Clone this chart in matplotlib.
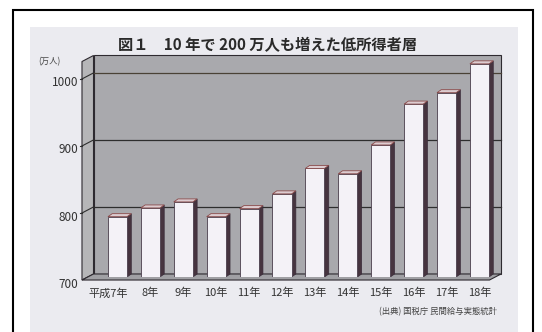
import numpy as np
import matplotlib.pyplot as plt
from matplotlib.patches import Polygon, Rectangle

plt.rcParams['font.family'] = ['Noto Sans CJK JP', 'DejaVu Sans']

# datos (万人)
anios = ['平成7年', '8年', '9年', '10年', '11年', '12年',
         '13年', '14年', '15年', '16年', '17年', '18年']
valores = [790, 803, 812, 790, 802, 824, 862, 854, 897, 958, 975, 1018]
yticks = [700, 800, 900, 1000]
titulo = '図１　10 年で 200 万人も増えた低所得者層'
unidad = '(万人)'
fuente = '(出典) 国税庁 民間給与実態統計'

W, H = 542, 332
fig = plt.figure(figsize=(W / 100, H / 100), dpi=100)

# marco y panel de fondo
bg = fig.add_axes([0, 0, 1, 1])
bg.set_xlim(0, W)
bg.set_ylim(H, 0)
bg.axis('off')
bg.add_patch(Rectangle((13, 10), 520, 340, fc='white', ec='black', lw=1.5))
bg.add_patch(Rectangle((30, 27), 488, 320, fc='#ebebf0', ec='none'))

# ejes en el plano medio de las barras
ax = fig.add_axes([87.75 / W, 55 / H, (495.25 - 87.75) / W, 218.5 / H])
x0, x1 = -0.904, 11.48
y0, y1 = 700, 1026
ax.set_xlim(x0, x1)
ax.set_ylim(y0, y1)
ax.axis('off')

hx, hy = 0.175, 4.5   # media profundidad de las paredes
bw = 0.58             # ancho de barra
bdx, bdy = 0.13, 4.5  # profundidad de barra
borde = '#2e2a30'

# pared trasera
ax.add_patch(Polygon([(x0 + hx, y0 + hy), (x1 + hx, y0 + hy), (x1 + hx, y1 + hy), (x0 + hx, y1 + hy)],
                     closed=True, fc='#a9a9ad', ec=borde, lw=0.8, clip_on=False, zorder=1))
# pared izquierda
ax.add_patch(Polygon([(x0 - hx, y0 - hy), (x0 + hx, y0 + hy), (x0 + hx, y1 + hy), (x0 - hx, y1 - hy)],
                     closed=True, fc='#b6b6b8', ec=borde, lw=0.8, clip_on=False, zorder=1))
# piso
ax.add_patch(Polygon([(x0 - hx, y0 - hy), (x1 - hx, y0 - hy), (x1 + hx, y0 + hy), (x0 + hx, y0 + hy)],
                     closed=True, fc='#a0a0a4', ec=borde, lw=0.8, clip_on=False, zorder=1))

# grilla
for v in yticks[1:]:
    c = '#4a4236' if v == 1000 else '#2e2e2e'
    ax.plot([x0 + hx, x1 + hx], [v + hy, v + hy], color=c, lw=0.9, zorder=2, clip_on=False)
    ax.plot([x0 - hx, x0 + hx], [v - hy, v + hy], color='#2e2e2e', lw=0.8, zorder=2, clip_on=False)
    ax.plot([x0 - hx - 0.06, x0 - hx], [v - hy, v - hy], color='#2e2e2e', lw=0.8, zorder=2, clip_on=False)

for v in yticks:
    ax.text(x0 - hx - 0.1, v - hy - 6, str(v), ha='right', va='center',
            fontsize=8.5, color='#333333', clip_on=False)

# barras
xs = np.arange(len(valores))
ax.bar(xs, np.array(valores) - y0, bottom=y0, width=bw, color='#f4f2f7',
       edgecolor='#4a3e4c', lw=0.6, zorder=4)
for x, v in zip(xs, valores):
    r = x + bw / 2
    l = x - bw / 2
    ax.add_patch(Polygon([(r, y0), (r + bdx, y0 + bdy), (r + bdx, v + bdy), (r, v)],
                         closed=True, fc='#46343f', ec='#3a2c3a', lw=0.5, zorder=3))
    ax.add_patch(Polygon([(l, v), (r, v), (r + bdx, v + bdy), (l + bdx, v + bdy)],
                         closed=True, fc='#dcccd0', ec='#8a4a4a', lw=0.6, zorder=5))

# etiquetas de categorias
for x, lab in zip(xs, anios):
    if x == 0:
        ax.text(x + 0.32, y0 - 24, lab, ha='right', va='center', fontsize=8,
                color='#333333', clip_on=False)
    else:
        ax.text(x, y0 - 24, lab, ha='center', va='center', fontsize=8,
                color='#333333', clip_on=False)

# textos
bg.text(268, 45, titulo, ha='center', va='center', fontsize=11, fontweight='bold', color='#2a2a2a')
bg.text(38, 62, unidad, ha='left', va='center', fontsize=6, color='#444444')
bg.text(497, 312, fuente, ha='right', va='center', fontsize=6, color='#444444')

fig.savefig('out.png', dpi=100)
